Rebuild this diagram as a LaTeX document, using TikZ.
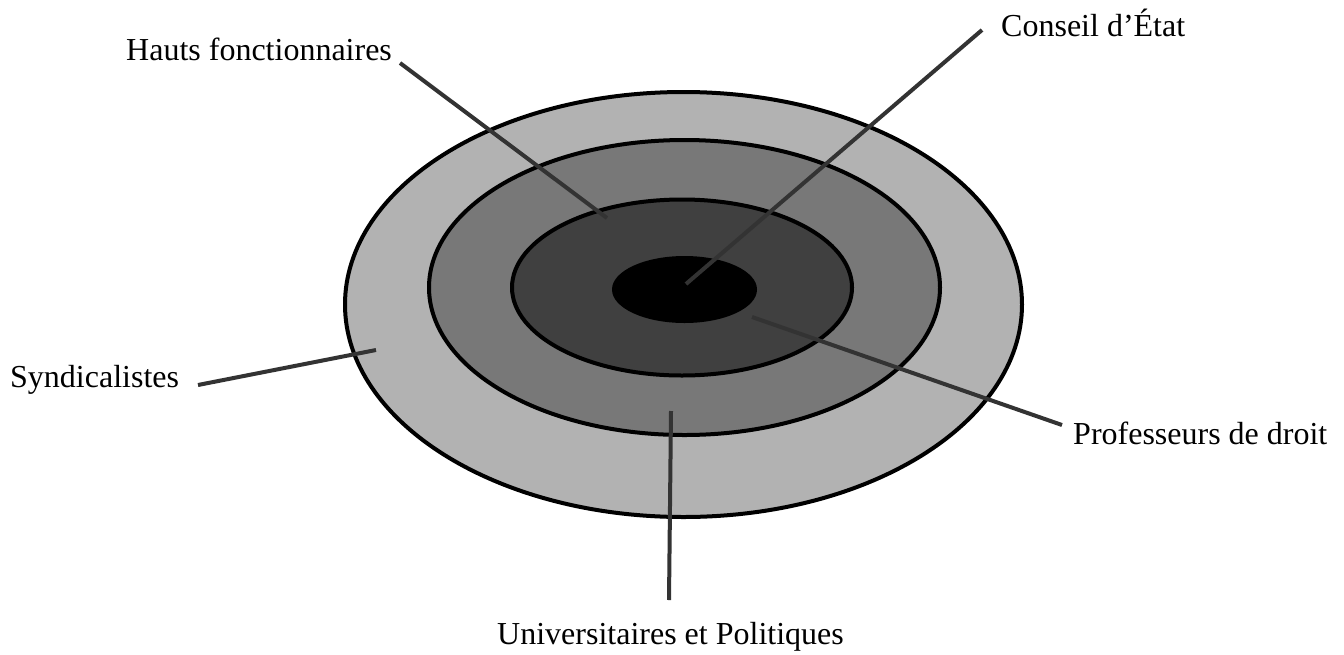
\documentclass[tikz,border=0pt]{standalone}
\usepackage{fontspec}
\setmainfont{Liberation Serif}
\begin{document}
\begin{tikzpicture}[x=1pt,y=-1pt,
  ring/.style={draw=black,line width=4pt},
  conn/.style={draw=black!80,line width=4pt},
  lbl/.style={anchor=base west,inner sep=0pt,font=\fontsize{32}{38}\selectfont}]
\useasboundingbox (0,0) rectangle (1344,654);
% rings
\path[ring,fill=black!30] (683.5,304.5) ellipse [x radius=338.5, y radius=212.5];
\path[ring,fill=black!53] (684.5,287.5) ellipse [x radius=255.5, y radius=147.5];
\path[ring,fill=black!75] (682,287.5) ellipse [x radius=170, y radius=88];
\path[fill=black] (684.5,289.5) ellipse [x radius=72.5, y radius=33.5];
% labels
\node[lbl] (hauts) at (126,60) {Hauts fonctionnaires};
\node[lbl] (conseil) at (1001,36) {Conseil d’État};
\node[lbl] (synd) at (10,387) {Syndicalistes};
\node[lbl] (prof) at (1073,444) {Professeurs de droit};
\node[lbl] (univ) at (497,644) {Universitaires et Politiques};
% connector ends
\coordinate (h1) at (400,63);   \coordinate (h2) at (607,218);
\coordinate (c1) at (982,30);   \coordinate (c2) at (686,284);
\coordinate (s1) at (198,385);  \coordinate (s2) at (376,350);
\coordinate (p1) at (1062,425); \coordinate (p2) at (752,317);
\coordinate (u1) at (669,600);  \coordinate (u2) at (671,411);
\draw[conn] (h1) -- (h2);
\draw[conn] (c1) -- (c2);
\draw[conn] (s1) -- (s2);
\draw[conn] (p1) -- (p2);
\draw[conn] (u1) -- (u2);
\end{tikzpicture}
\end{document}
